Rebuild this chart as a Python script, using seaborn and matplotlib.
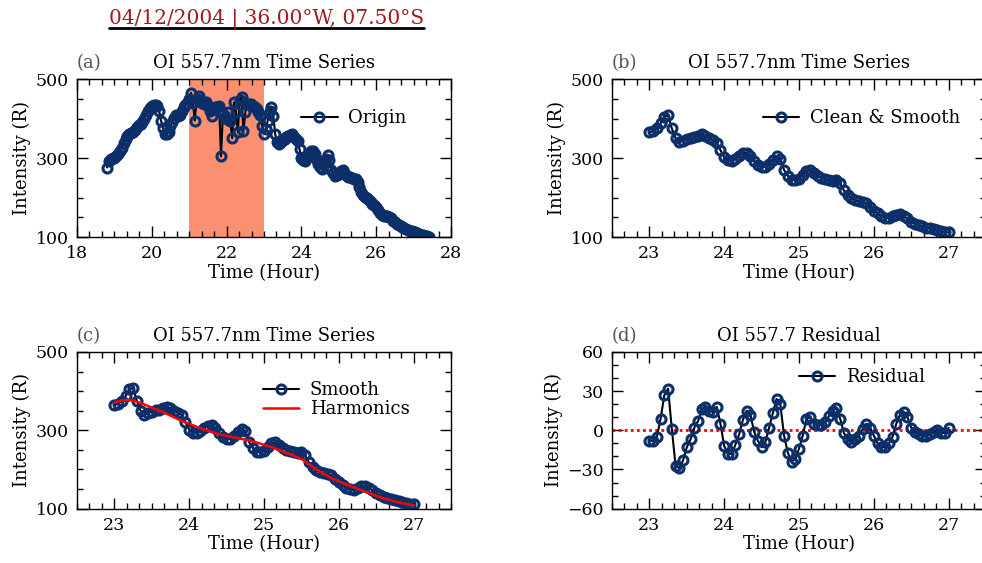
import numpy as np
import pandas as pd
import matplotlib
matplotlib.use('Agg')
import matplotlib.pyplot as plt
from matplotlib.lines import Line2D
from matplotlib.ticker import MultipleLocator
import seaborn as sns

sns.set_style('ticks')
plt.rcParams['font.family'] = ['DejaVu Serif', 'Liberation Serif']
plt.rcParams['axes.unicode_minus'] = True
for key in ['text.color', 'axes.labelcolor', 'xtick.color', 'ytick.color']:
    plt.rcParams[key] = 'black'

# ---- data (3-minute samples) ----
# (a) raw OI 557.7 nm intensity, 18.80 h .. 27.40 h
origin = [276, 292, 297, 300, 301, 304, 310, 317, 325, 337,
          347, 355, 360, 363, 366, 372, 378, 383, 387, 391,
          400, 410, 419, 427, 432, 434, 434, 431, 418, 394,
          376, 362, 360, 367, 380, 392, 402, 410, 406, 408,
          419, 428, 434, 440, 450, 465, 440, 395, 450, 456,
          446, 440, 437, 441, 433, 420, 407, 424, 428, 430,
          432, 304, 411, 405, 399, 416, 394, 350, 441, 416,
          365, 448, 454, 369, 416, 437, 437, 436, 433, 428,
          424, 417, 408, 382, 362, 373, 395, 420, 428, 407,
          360, 340, 336, 340, 345, 348, 352, 355, 359, 360,
          354, 347, 342, 322, 300, 294, 293, 302, 311, 319,
          318, 311, 298, 285, 278, 272, 285, 297, 307, 295,
          270, 262, 255, 257, 260, 268, 270, 262, 256, 253,
          251, 249, 248, 246, 240, 226, 213, 206, 202, 198,
          195, 189, 184, 180, 175, 169, 162, 156, 152, 153,
          154, 151, 147, 141, 137, 134, 131, 128, 125, 123,
          120, 118, 116, 114, 113, 112, 110, 108, 106, 104,
          103, 102, 101]
origin_start, origin_end = 18.8, 27.4

# (b)/(c) cleaned & smoothed series, 23.00 h .. 27.00 h
smooth = [365, 368, 375, 388, 405, 408, 375, 350, 340, 344,
          348, 351, 353, 357, 360, 356, 350, 345, 339, 320,
          302, 294, 293, 298, 306, 312, 313, 305, 293, 282,
          277, 278, 286, 296, 304, 298, 270, 255, 245, 244,
          248, 258, 267, 270, 262, 255, 250, 246, 244, 243,
          245, 236, 218, 206, 198, 193, 190, 189, 185, 177,
          167, 160, 153, 149, 147, 152, 157, 158, 153, 147,
          139, 134, 130, 127, 124, 122, 120, 117, 115, 112,
          112]

# (c) harmonic fit, every 0.1 h from 23.0 h to 27.0 h
harmonics = [371, 376, 378, 373, 366, 358, 350, 342, 333, 324,
             317, 309, 302, 296, 290, 286, 282, 278, 274, 269,
             263, 257, 250, 242, 235, 227, 214, 200, 189, 178,
             170, 162, 155, 147, 140, 133, 126, 121, 116, 112,
             109]

# (d) residual, 23.00 h .. 27.00 h
residual = [-8, -8, -5, 9, 27, 32, 1, -27, -29, -23,
            -13, -7, 2, 7, 16, 18, 15, 14, 18, 5,
            -12, -18, -18, -11, -3, 8, 15, 12, -1, -8,
            -13, -9, 2, 13, 24, 20, -4, -17, -24, -22,
            -14, -4, 9, 10, 5, 4, 4, 6, 11, 15,
            17, 9, -2, -7, -9, -7, -4, 1, 5, 2,
            -4, -10, -13, -13, -10, -5, 5, 12, 14, 10,
            2, -1, -3, -4, -4, -3, -1, 0, -2, -2,
            2]
fit_start, fit_end = 23.0, 27.0

storm_window = (21.0, 23.0)
suptitle = '04/12/2004 | 36.00°W, 07.50°S'

t_origin = np.linspace(origin_start, origin_end, len(origin))
t_fit = np.linspace(fit_start, fit_end, len(smooth))
t_harm = np.linspace(fit_start, fit_end, len(harmonics))
df_a = pd.DataFrame({'t': t_origin, 'v': origin})
df_b = pd.DataFrame({'t': t_fit, 'v': smooth})
df_h = pd.DataFrame({'t': t_harm, 'v': harmonics})
df_d = pd.DataFrame({'t': t_fit, 'v': residual})

NAVY = '#0b2f6b'
FS = 13
mk = dict(marker='o', markersize=6.5, markerfacecolor='none',
          markeredgecolor=NAVY, markeredgewidth=2.2, linewidth=1.5,
          color='black', sort=False, estimator=None)

fig = plt.figure(figsize=(9.82, 5.63), dpi=100)
ax_a = fig.add_axes([0.0784, 0.579, 0.3809, 0.2806])
ax_b = fig.add_axes([0.6232, 0.579, 0.3809, 0.2806])
ax_c = fig.add_axes([0.0784, 0.0965, 0.3809, 0.2783])
ax_d = fig.add_axes([0.6232, 0.0965, 0.3809, 0.2783])


def style(ax, letter, title, xmaj, xmin, ymaj, ymin, yoff=0):
    ax.xaxis.set_major_locator(MultipleLocator(xmaj))
    ax.xaxis.set_minor_locator(MultipleLocator(xmin))
    ax.yaxis.set_major_locator(MultipleLocator(ymaj, offset=yoff))
    ax.yaxis.set_minor_locator(MultipleLocator(ymin))
    ax.tick_params(which='both', direction='in', top=True, right=True,
                   labelsize=12.5, colors='black')
    ax.tick_params(which='major', length=8, width=1, pad=6)
    ax.tick_params(which='minor', length=4.5, width=1)
    for s in ax.spines.values():
        s.set_linewidth(1)
        s.set_color('black')
    ax.set_title(title, fontsize=FS, pad=8, color='black')
    ax.set_title(letter, loc='left', fontsize=FS, color='#555555', pad=8)
    ax.set_xlabel('Time (Hour)', fontsize=FS, labelpad=1)
    ax.set_ylabel('Intensity (R)', fontsize=FS, labelpad=3)


def legend(ax, x, y):
    ax.legend(loc='upper left', bbox_to_anchor=(x, y), frameon=False,
              fontsize=FS, handlelength=2.0, handletextpad=0.6,
              borderpad=0, borderaxespad=0, labelspacing=0.05, numpoints=1)


# (a)
ax_a.axvspan(*storm_window, color='#fa9070', lw=0, zorder=0)
sns.lineplot(data=df_a, x='t', y='v', ax=ax_a, label='Origin', **mk)
ax_a.set_xlim(18, 28)
ax_a.set_ylim(100, 500)
style(ax_a, '(a)', 'OI 557.7nm Time Series', 2, 1/3, 200, 50, 100)
legend(ax_a, 0.60, 0.81)

# (b)
sns.lineplot(data=df_b, x='t', y='v', ax=ax_b, label='Clean & Smooth', **mk)
ax_b.set_xlim(22.5, 27.5)
ax_b.set_ylim(100, 500)
style(ax_b, '(b)', 'OI 557.7nm Time Series', 1, 1/6, 200, 50, 100)
legend(ax_b, 0.404, 0.81)

# (c)
sns.lineplot(data=df_b, x='t', y='v', ax=ax_c, label='Smooth', **mk)
sns.lineplot(data=df_h, x='t', y='v', ax=ax_c, label='Harmonics',
             color='#ff0000', linewidth=1.8, sort=False, estimator=None)
ax_c.set_xlim(22.5, 27.5)
ax_c.set_ylim(100, 500)
style(ax_c, '(c)', 'OI 557.7nm Time Series', 1, 1/6, 200, 50, 100)
legend(ax_c, 0.497, 0.815)

# (d)
ax_d.axhline(0, color='#ff0000', linestyle=(0, (1, 1.2)), linewidth=2, zorder=1)
sns.lineplot(data=df_d, x='t', y='v', ax=ax_d, label='Residual', **mk)
ax_d.set_xlim(22.5, 27.5)
ax_d.set_ylim(-60, 60)
style(ax_d, '(d)', 'OI 557.7 Residual', 1, 1/6, 30, 10)
legend(ax_d, 0.50, 0.897)

# header with underline
txt = fig.text(0.271, 0.959, suptitle, color='#9e1a20', fontsize=14.5,
               ha='center', va='baseline')
fig.canvas.draw()
bb = txt.get_window_extent(fig.canvas.get_renderer())
inv = fig.transFigure.inverted()
(x0, _), (x1, _) = inv.transform([(bb.x0, bb.y0), (bb.x1, bb.y0)])
fig.add_artist(Line2D([x0, x1], [0.950, 0.950], transform=fig.transFigure,
                      color='black', linewidth=2))

fig.savefig('out.png', dpi=100)
